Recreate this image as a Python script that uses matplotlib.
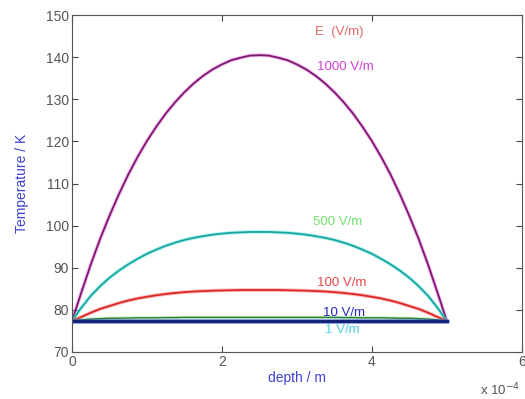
import numpy as np
import matplotlib.pyplot as plt

plt.rcParams['font.family'] = ['Liberation Sans', 'DejaVu Sans']

# depth in m (0 to 5e-4, step 0.125e-4)
depth = np.arange(41) * 0.125e-4

# temperature (K) for each field strength
T_1000 = [77.3, 84.1, 90.7, 96.8, 102.3, 107.4, 112.1, 116.3, 120.1, 123.5,
          126.6, 129.3, 131.7, 133.8, 135.6, 137.1, 138.3, 139.3, 139.9, 140.4,
          140.5,
          140.4, 139.9, 139.3, 138.3, 137.1, 135.6, 133.8, 131.7, 129.3, 126.6,
          123.5, 120.1, 116.3, 112.1, 107.4, 102.3, 96.8, 90.7, 84.1, 77.3]
T_500 = [77.3, 80.5, 83.3, 85.6, 87.6, 89.3, 90.8, 92.1, 93.3, 94.3,
         95.2, 95.95, 96.6, 97.1, 97.5, 97.85, 98.1, 98.3, 98.4, 98.5,
         98.5,
         98.5, 98.4, 98.3, 98.1, 97.85, 97.5, 97.1, 96.6, 95.95, 95.2,
         94.3, 93.3, 92.1, 90.8, 89.3, 87.6, 85.6, 83.3, 80.5, 77.3]
T_100 = [77.3, 78.3, 79.3, 80.2, 80.9, 81.6, 82.2, 82.7, 83.1, 83.45,
         83.75, 84.0, 84.2, 84.35, 84.45, 84.55, 84.6, 84.65, 84.7, 84.7,
         84.7,
         84.7, 84.7, 84.65, 84.6, 84.55, 84.45, 84.35, 84.2, 84.0, 83.75,
         83.45, 83.1, 82.7, 82.2, 81.6, 80.9, 80.2, 79.3, 78.3, 77.3]
T_10 = [77.3, 77.6, 77.8, 77.9, 78.0, 78.0, 78.05, 78.1, 78.1, 78.1,
        78.15, 78.15, 78.2, 78.2, 78.2, 78.2, 78.2, 78.2, 78.2, 78.2,
        78.2,
        78.2, 78.2, 78.2, 78.2, 78.2, 78.2, 78.2, 78.2, 78.15, 78.15,
        78.1, 78.1, 78.1, 78.05, 78.0, 78.0, 77.9, 77.8, 77.6, 77.3]
T_1 = [77.4] * 41

fields = ['1000 V/m', '500 V/m', '100 V/m', '10 V/m', '1 V/m']
curves = [T_1000, T_500, T_100, T_10, T_1]
halo = ['#f070f0', '#60e8e0', '#ff7070', '#90e090', '#3050d0']
core = ['#7a1a6a', '#1aa5a0', '#d82828', '#2a7a3a', '#14237a']
widths = [1.3, 1.3, 1.3, 1.0, 2.2]

# label positions (depth in 1e-4 m, temperature)
label_x = [3.27, 3.21, 3.27, 3.35, 3.37]
label_y = [137.7, 100.9, 86.4, 79.3, 75.3]
label_col = ['#d040d0', '#70e070', '#e84848', '#2828c0', '#50d0e8']

fig = plt.figure(figsize=(5.25, 3.99), dpi=100)
ax = fig.add_axes([0.137, 0.118, 0.857, 0.844])

for T, h, c, w in zip(curves, halo, core, widths):
    ax.plot(depth, T, color=h, lw=w + 1.4, alpha=0.5, solid_capstyle='round')
    ax.plot(depth, T, color=c, lw=w)

ax.text(3.24e-4, 146.0, 'E  (V/m)', color='#e06868', fontsize=9.5, va='center')
for name, lx, ly, lc in zip(fields, label_x, label_y, label_col):
    ax.text(lx * 1e-4, ly, name, color=lc, fontsize=9.5, va='center')

ax.set_xlim(0, 6e-4)
ax.set_ylim(70, 150)
ax.set_xticks([0, 2e-4, 4e-4, 6e-4])
ax.set_xticklabels(['0', '2', '4', '6'])
ax.set_yticks(range(70, 151, 10))
ax.tick_params(direction='in', top=True, right=True, length=4,
               labelsize=10, colors='#444444', labelcolor='#555555', pad=2)
for s in ax.spines.values():
    s.set_color('#555555')
    s.set_linewidth(0.8)

ax.set_xlabel('depth / m', color='#4040d0', fontsize=10, labelpad=2)
ax.set_ylabel('Temperature / K', color='#4040d0', fontsize=10, labelpad=12)
fig.text(0.915, 0.01, r'x 10$^{-4}$', color='#555555', fontsize=9.5)

fig.savefig('out.png', dpi=100)
